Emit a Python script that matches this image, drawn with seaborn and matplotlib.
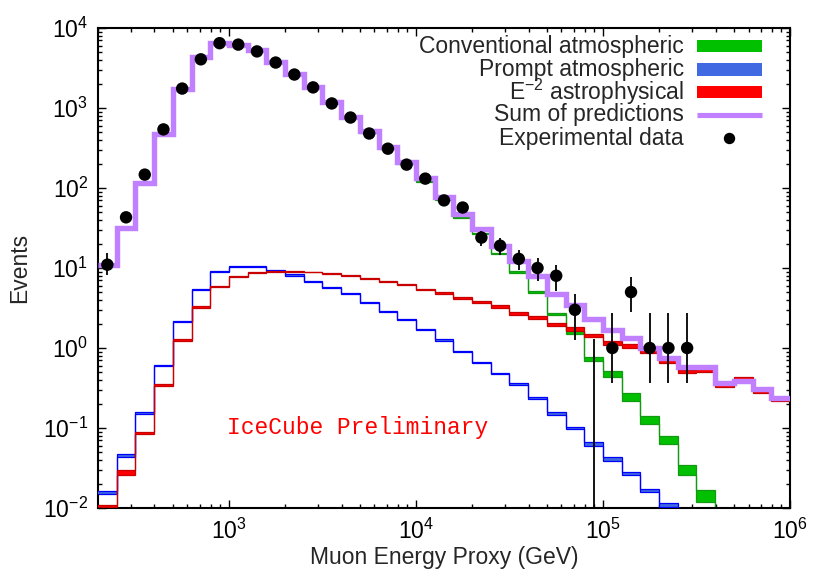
import numpy as np
import pandas as pd
import matplotlib
matplotlib.use("Agg")
import matplotlib.pyplot as plt
from matplotlib.patches import Rectangle
from matplotlib.lines import Line2D
from matplotlib.ticker import LogLocator, NullFormatter
import seaborn as sns

# ---------------- data ----------------
log_edges = [2.3, 2.4, 2.5, 2.6, 2.7, 2.8, 2.9, 3.0, 3.1, 3.2, 3.3, 3.4, 3.5,
             3.6, 3.7, 3.8, 3.9, 4.0, 4.1, 4.2, 4.3, 4.4, 4.5, 4.6, 4.7, 4.8,
             4.9, 5.0, 5.1, 5.2, 5.3, 5.4, 5.5, 5.6, 5.7, 5.8, 5.9, 6.0]

sum_pred = [11, 32, 117, 480, 1740, 4300, 6450, 6170, 5370, 3720, 2660, 1820,
            1200, 767, 513, 324, 209, 132, 77, 48, 31, 19, 12.3, 8.05, 4.8,
            3.4, 2.3, 1.66, 1.35, 1.01, 0.76, 0.575, 0.575, 0.37, 0.39, 0.31, 0.24]

conv_lo = [10.8, 31.5, 115, 472, 1710, 4230, 6350, 6060, 5270, 3650, 2600, 1780,
           1168, 743, 494, 310, 197, 120, 70.8, 42.3, 26.5, 14.9, 8.7, 4.85,
           2.6, 1.5, 0.68, 0.44, 0.22, 0.113, 0.063, 0.026, 0.0120, 0.0042,
           0.0017, 0.0008, 0.0004]
conv_hi = [11.2, 32.5, 119, 486, 1760, 4350, 6520, 6240, 5430, 3750, 2680, 1830,
           1204, 767, 510, 320, 203, 124, 73.2, 43.7, 27.5, 15.5, 9.1, 5.15,
           2.76, 1.65, 0.78, 0.51, 0.27, 0.142, 0.080, 0.034, 0.0166, 0.0058,
           0.0023, 0.0012, 0.0006]

prompt_lo = [0.0148, 0.0440, 0.150, 0.588, 2.10, 5.33, 8.85, 10.3, 10.2, 9.15,
             8.05, 6.68, 5.65, 4.67, 3.66, 2.83, 2.21, 1.67, 1.22, 0.89, 0.645,
             0.47, 0.34, 0.228, 0.147, 0.096, 0.060, 0.039, 0.0255, 0.0157,
             0.0104, 0.0062, 0.0038, 0.0024, 0.0014, 0.0009, 0.0005]
prompt_hi = [0.0162, 0.0475, 0.160, 0.612, 2.18, 5.53, 9.15, 10.7, 10.6, 9.45,
             8.35, 6.92, 5.85, 4.85, 3.80, 2.93, 2.29, 1.73, 1.28, 0.93, 0.675,
             0.49, 0.36, 0.244, 0.159, 0.104, 0.066, 0.043, 0.0285, 0.0173,
             0.0116, 0.0068, 0.0042, 0.0026, 0.0016, 0.0011, 0.0007]

astro_lo = [0.0104, 0.0257, 0.083, 0.338, 1.24, 3.17, 5.8, 7.8, 8.6, 9.0, 8.9,
            8.8, 8.4, 7.95, 7.2, 6.7, 6.1, 5.3, 4.8, 4.1, 3.7, 3.2, 2.60, 2.28,
            1.88, 1.65, 1.36, 1.09, 1.01, 0.86, 0.645, 0.485, 0.495, 0.322,
            0.39, 0.275, 0.218]
astro_hi = [0.0110, 0.0295, 0.089, 0.356, 1.30, 3.31, 6.0, 8.0, 8.8, 9.2, 9.1,
            9.0, 8.6, 8.15, 7.4, 6.9, 6.3, 5.5, 5.0, 4.3, 3.9, 3.4, 2.84, 2.48,
            2.06, 1.83, 1.51, 1.21, 1.13, 0.96, 0.715, 0.535, 0.545, 0.358,
            0.43, 0.305, 0.242]

# experimental data: counts per bin (first 32 bins) and error-bar bounds
data_counts = [11, 43, 147, 540, 1750, 4060, 6460, 6200, 5100, 3700, 2620, 1810,
               1140, 760, 480, 310, 196, 131, 70, 57, 24, 19, 13, 10, 8, 3, 0,
               1, 5, 1, 1, 1]
data_lo = [8.1, 36.5, 135, 517, 1708, 3996, 6380, 6121, 5029, 3639, 2569, 1767,
           1106, 732, 458, 292, 182, 120, 62, 49.5, 19.1, 14.6, 9.4, 6.8, 5.2,
           1.27, 0.001, 0.37, 2.8, 0.37, 0.37, 0.37]
data_hi = [15.2, 49.6, 159, 563, 1792, 4124, 6540, 6279, 5171, 3761, 2671, 1853,
           1174, 788, 502, 328, 210, 142, 78, 64.5, 28.9, 23.4, 16.6, 13.2, 10.8,
           4.73, 1.3, 2.76, 7.8, 2.76, 2.76, 2.76]

legend_labels = ["Conventional atmospheric", "Prompt atmospheric",
                 r"E$^{\mathregular{-2}}$ astrophysical", "Sum of predictions",
                 "Experimental data"]

# ---------------- style ----------------
sns.set_theme(style="ticks")
plt.rcParams["font.family"] = ["Liberation Sans", "DejaVu Sans"]
plt.rcParams["mathtext.fontset"] = "custom"
plt.rcParams["mathtext.rm"] = "Liberation Sans"
plt.rcParams["mathtext.it"] = "Liberation Sans:italic"
plt.rcParams["mathtext.bf"] = "Liberation Sans:bold"
plt.rcParams["axes.linewidth"] = 1.5

FS = 16.5

edges = 10 ** np.array(log_edges)
centers = np.sqrt(edges[:-1] * edges[1:])

fig = plt.figure(figsize=(8.3, 5.81), dpi=100)
ax = fig.add_axes([98 / 830, 73 / 581, 692 / 830, 480 / 581])


def band(lo, hi, fill, edge, z):
    lo = np.asarray(lo, float)
    hi = np.asarray(hi, float)
    ax.fill_between(edges, np.append(lo, lo[-1]), np.append(hi, hi[-1]),
                    step="post", color=fill, lw=0, zorder=z)
    ax.stairs(lo, edges, color=edge, lw=0.9, baseline=None, zorder=z + 0.1)
    ax.stairs(hi, edges, color=edge, lw=0.9, baseline=None, zorder=z + 0.1)


band(conv_lo, conv_hi, "#00c000", "#139a13", 2)
band(prompt_lo, prompt_hi, "#4169e1", "#0000ff", 3)
band(astro_lo, astro_hi, "#ff0000", "#c80000", 4)

ax.stairs(sum_pred, edges, color="#c080ff", lw=3.9, baseline=None, zorder=5,
          joinstyle="miter", capstyle="butt")

# data error bars and points
nd = len(data_counts)
ax.vlines(centers[:nd], data_lo, data_hi, color="black", lw=1.3, zorder=6)
df = pd.DataFrame({"E": centers[:nd], "N": data_counts})
df = df[df["N"] > 0]
sns.scatterplot(data=df, x="E", y="N", ax=ax, color="black", s=80,
                edgecolor="none", zorder=7, legend=False)

ax.set_xscale("log")
ax.set_yscale("log")
ax.set_xlim(edges[0], edges[-1])
ax.set_ylim(1e-2, 1e4)

ax.xaxis.set_major_locator(LogLocator(base=10, numticks=20))
ax.xaxis.set_minor_locator(LogLocator(base=10, subs=np.arange(2, 10), numticks=50))
ax.yaxis.set_major_locator(LogLocator(base=10, numticks=20))
ax.yaxis.set_minor_locator(LogLocator(base=10, subs=np.arange(2, 10), numticks=50))
ax.xaxis.set_minor_formatter(NullFormatter())
ax.yaxis.set_minor_formatter(NullFormatter())

ax.tick_params(which="both", direction="in", top=True, right=True,
               labelsize=FS, colors="black")
ax.tick_params(which="major", length=5.5, width=1.0)
ax.tick_params(which="minor", length=3.0, width=1.0)
ax.tick_params(axis="x", which="major", pad=8)
ax.tick_params(axis="y", which="major", pad=7)
for s in ax.spines.values():
    s.set_color("black")

ax.set_xlabel("Muon Energy Proxy (GeV)", fontsize=FS, labelpad=1)
ax.set_ylabel("Events", fontsize=FS, labelpad=9)

# IceCube Preliminary
ax.text(0.186, 0.168, "IceCube Preliminary", transform=ax.transAxes,
        family=["Liberation Mono", "DejaVu Sans Mono"], color="#ff0000",
        fontsize=16.5, ha="left", va="center", zorder=8)

# legend (right-aligned text, samples to the right)
rows = [0.9625, 0.9135, 0.8667, 0.8188, 0.7702]
tx = 0.8468
sx0, sx1 = 0.8656, 0.9595
tr = ax.transAxes
for y, lab in zip(rows, legend_labels):
    ax.text(tx, y, lab, transform=tr, ha="right", va="center", fontsize=FS,
            zorder=9)
fills = ["#00c000", "#4169e1", "#ff0000"]
for y, c in zip(rows[:3], fills):
    ax.add_patch(Rectangle((sx0, y - 0.0128), sx1 - sx0, 0.0256, transform=tr,
                           facecolor=c, edgecolor="none", zorder=9))
ax.add_line(Line2D([sx0, sx1], [rows[3], rows[3]], transform=tr,
                   color="#c080ff", lw=3.7, solid_capstyle="butt", zorder=9))
ax.add_line(Line2D([(sx0 + sx1) / 2], [rows[4]], transform=tr, marker="o",
                   markersize=8.2, color="black", markeredgewidth=0, zorder=9))

fig.savefig("out.png", dpi=100)
